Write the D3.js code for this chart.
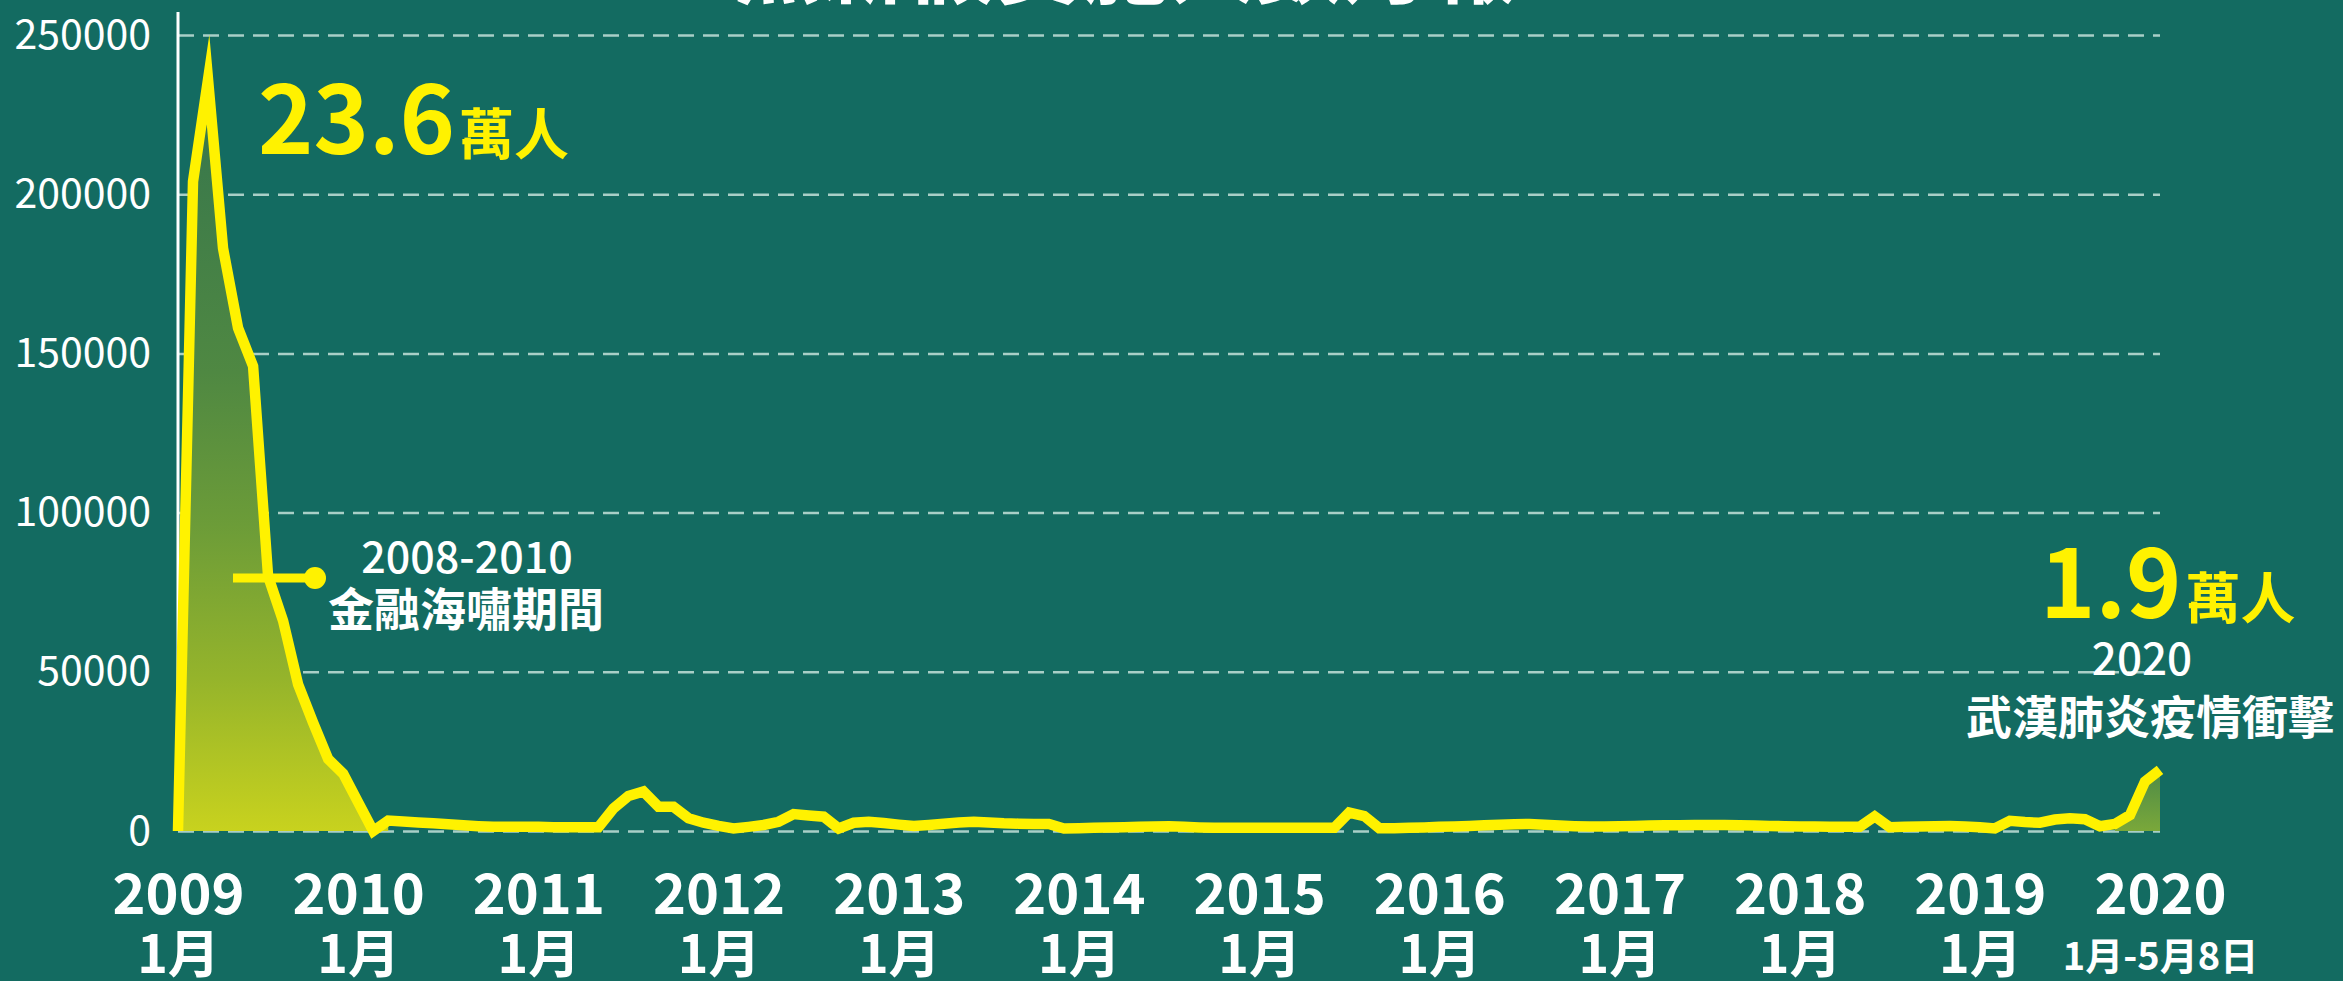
<!DOCTYPE html>
<html>
<head>
<meta charset="utf-8">
<script src="https://cdn.jsdelivr.net/npm/d3@7"></script>
<style>
  html, body { margin: 0; padding: 0; background: #136b61; overflow: hidden; }
  svg { display: block; }
  text { font-family: "Noto Sans CJK TC", "Noto Sans", sans-serif; }
</style>
</head>
<body>
<svg id="chart" width="2343" height="981"></svg>
<script>
// ---- data ----
const yearLabels  = ["2009","2010","2011","2012","2013","2014","2015","2016","2017","2018","2019","2020"];
const monthLabels = ["1月","1月","1月","1月","1月","1月","1月","1月","1月","1月","1月","1月-5月8日"];
const yTicks = [0, 50000, 100000, 150000, 200000, 250000];
// monthly count of workers on unpaid leave, Jan 2009 ... (index = month offset)
const values = [
  0, 204000, 236000, 183000, 158000, 146000, 80000, 66000, 46000, 34000, 22600, 18000,
  9000, 0, 3300, 3000, 2700, 2400, 2100, 1800, 1500, 1300, 1300, 1300,
  1300, 1200, 1200, 1200, 1200, 7100, 11000, 12400, 7600, 7600, 4000, 2600,
  1600, 800, 1300, 1900, 2900, 5300, 4900, 4500, 800, 2600, 2900, 2500,
  2000, 1600, 1900, 2300, 2700, 2900, 2700, 2400, 2300, 2200, 2200, 800,
  900, 1000, 1100, 1200, 1300, 1400, 1500, 1300, 1100, 1000, 1000, 1000,
  1000, 1000, 1000, 1000, 1000, 1000, 5800, 4700, 900, 900, 1000, 1100,
  1300, 1400, 1600, 1800, 2000, 2100, 2200, 2000, 1700, 1500, 1400, 1400,
  1500, 1600, 1700, 1800, 1800, 1900, 1900, 1900, 1800, 1700, 1600, 1500,
  1400, 1400, 1300, 1300, 1300, 4600, 1200, 1300, 1400, 1500, 1600, 1400,
  1200, 800, 3200, 2800, 2600, 3600, 4000, 3700, 1500, 2200, 5000, 15500,
  19200
];
const crisisRange = [0, 14];   // 2008-2010 financial crisis segment (filled)
const covidRange  = [129, 132]; // 2020 segment (filled)
const titleText = "無薪假實施人數月報";

// ---- layout ----
const W = 2343, H = 981;
const m = { left: 178, right: 2160, top: 35, bottom: 831 };
const svg = d3.select("#chart");

const x = d3.scaleLinear().domain([0, values.length - 1]).range([m.left, m.right]);
const y = d3.scaleLinear().domain([0, 250000]).range([m.bottom, m.top]);

// gradients
const defs = svg.append("defs");
const g1 = defs.append("linearGradient").attr("id", "gCrisis")
  .attr("gradientUnits", "userSpaceOnUse")
  .attr("x1", 0).attr("x2", 0).attr("y1", y(240000)).attr("y2", y(0));
[[0, "#33744e"], [0.4, "#4f8842"], [0.6, "#6c9c38"], [0.8, "#95b42b"], [1, "#c8d21e"]]
  .forEach(([o, c]) => g1.append("stop").attr("offset", o).attr("stop-color", c));
const g2 = defs.append("linearGradient").attr("id", "gCovid")
  .attr("x1", 0).attr("x2", 0).attr("y1", 0).attr("y2", 1);
[[0, "#4d8a47"], [1, "#7aa83a"]]
  .forEach(([o, c]) => g2.append("stop").attr("offset", o).attr("stop-color", c));

// title (cropped at top in the reference)
svg.append("text").attr("x", 1125).attr("y", -3)
  .attr("text-anchor", "middle").attr("fill", "#fff")
  .attr("font-size", 87).attr("font-weight", 700).text(titleText);

// gridlines
const grid = svg.append("g").attr("transform", `translate(${m.left},0)`)
  .call(d3.axisLeft(y).tickValues(yTicks).tickSize(-(m.right - m.left)).tickFormat(""));
grid.select(".domain").remove();
grid.selectAll(".tick line")
  .attr("stroke", "#a9cfc7").attr("stroke-width", 2.5).attr("stroke-dasharray", "16,9");

// y labels
const yAx = svg.append("g").attr("transform", `translate(${m.left},0)`)
  .call(d3.axisLeft(y).tickValues(yTicks).tickSize(0).tickPadding(27).tickFormat(d3.format("d")));
yAx.select(".domain").remove();
yAx.selectAll(".tick text").attr("fill", "#fff").attr("font-size", 41)
  .attr("font-family", "'Noto Sans CJK TC', sans-serif");

// y axis line
svg.append("line").attr("x1", m.left).attr("x2", m.left)
  .attr("y1", y(0)).attr("y2", y(250000) - 23)
  .attr("stroke", "#fff").attr("stroke-width", 3);

// areas
const idx = d3.range(values.length);
const area = d3.area().x(i => x(i)).y0(y(0)).y1(i => y(values[i]));
svg.append("path").datum(idx.filter(i => i >= crisisRange[0] && i <= crisisRange[1]))
  .attr("d", area).attr("fill", "url(#gCrisis)");
svg.append("path").datum(idx.filter(i => i >= covidRange[0] && i <= covidRange[1]))
  .attr("d", area).attr("fill", "url(#gCovid)");

// line
const line = d3.line().x(i => x(i)).y(i => y(values[i]));
svg.append("path").datum(idx).attr("d", line)
  .attr("fill", "none").attr("stroke", "#fff200").attr("stroke-width", 10.5)
  .attr("stroke-linejoin", "miter").attr("stroke-miterlimit", 12);

// x axis labels
const xTickIdx = yearLabels.map((d, i) => i * 12);
const xAx = svg.append("g").attr("transform", `translate(0,${m.bottom})`)
  .call(d3.axisBottom(x).tickValues(xTickIdx).tickSize(0).tickFormat((d, i) => yearLabels[i]));
xAx.select(".domain").remove();
xAx.selectAll(".tick text").attr("fill", "#fff").attr("font-size", 56).attr("font-weight", 700)
  .attr("dy", null).attr("y", 83);
xAx.selectAll(".tick").append("text")
  .attr("fill", "#fff").attr("text-anchor", "middle").attr("font-weight", 700)
  .attr("font-size", (d, i) => monthLabels[i].length > 3 ? 38 : 52)
  .attr("y", (d, i) => monthLabels[i].length > 3 ? 139 : 142)
  .text((d, i) => monthLabels[i]);

// annotation: peak
const peakIdx = d3.maxIndex(values);
const t1 = svg.append("text").attr("x", 258).attr("y", 154).attr("fill", "#fff200").attr("font-weight", 700);
t1.append("tspan").attr("font-size", 94).text((values[peakIdx] / 10000).toFixed(1));
t1.append("tspan").attr("font-size", 55).attr("dx", 4).text("萬人");

// annotation: crisis
svg.append("line").attr("x1", 233).attr("x2", 315).attr("y1", 578).attr("y2", 578)
  .attr("stroke", "#fff200").attr("stroke-width", 9);
svg.append("circle").attr("cx", 315).attr("cy", 578).attr("r", 11).attr("fill", "#fff200");
svg.append("text").attr("x", 467).attr("y", 573).attr("text-anchor", "middle")
  .attr("fill", "#fff").attr("font-size", 43).attr("font-weight", 500).text("2008-2010");
svg.append("text").attr("x", 466).attr("y", 626).attr("text-anchor", "middle")
  .attr("fill", "#fff").attr("font-size", 46).attr("font-weight", 700).text("金融海嘯期間");

// annotation: 2020
const last = values[values.length - 1];
const t2 = svg.append("text").attr("x", 2040).attr("y", 618).attr("fill", "#fff200").attr("font-weight", 700);
t2.append("tspan").attr("font-size", 94).text((last / 10000).toFixed(1));
t2.append("tspan").attr("font-size", 55).attr("dx", 4).text("萬人");
svg.append("text").attr("x", 2142).attr("y", 675).attr("text-anchor", "middle")
  .attr("fill", "#fff").attr("font-size", 44).attr("font-weight", 500).text("2020");
svg.append("text").attr("x", 2150).attr("y", 734).attr("text-anchor", "middle")
  .attr("fill", "#fff").attr("font-size", 46).attr("font-weight", 700).text("武漢肺炎疫情衝擊");
</script>
</body>
</html>
